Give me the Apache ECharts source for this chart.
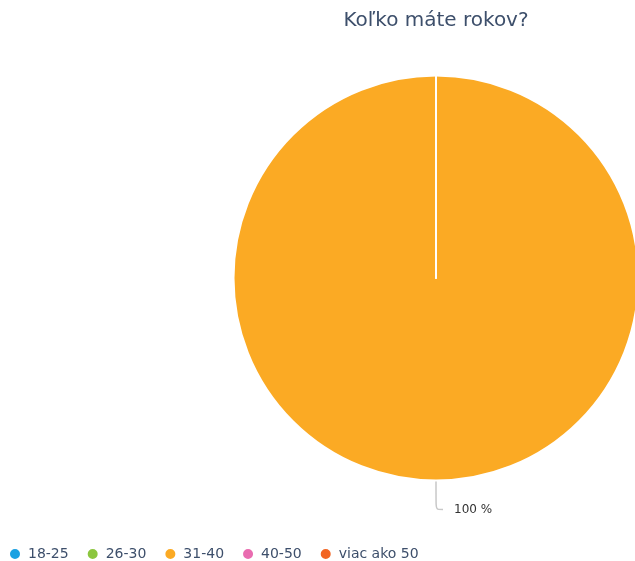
<!DOCTYPE html>
<html>
<head>
<meta charset="utf-8">
<script src="https://cdn.jsdelivr.net/npm/echarts@6/dist/echarts.min.js"></script>
<style>
  html, body { margin: 0; padding: 0; background: #fff; }
  #chart { width: 635px; height: 561px; }
</style>
</head>
<body>
<div id="chart"></div>
<script>
// Age groups of respondents
const categories = ['18-25', '26-30', '31-40', '40-50', 'viac ako 50'];
const counts = [0, 0, 1, 0, 0];
const colors = ['#1ba1e2', '#8cc63f', '#fbaa24', '#e96cb0', '#f26522'];

const chart = echarts.init(document.getElementById('chart'), null, { renderer: 'canvas' });

const data = categories.map((name, i) => ({
  name: name,
  value: counts[i],
  label: { show: counts[i] > 0 },
  labelLine: { show: counts[i] > 0 }
}));

chart.setOption({
  animation: false,
  color: colors,
  title: {
    text: 'Koľko máte rokov?',
    left: 431,
    top: 6,
    textAlign: 'center',
    textStyle: {
      fontFamily: 'DejaVu Sans',
      fontSize: 20,
      fontWeight: 'normal',
      color: '#3d4f6b'
    }
  },
  legend: {
    left: 8,
    top: 547,
    padding: 0,
    icon: 'circle',
    itemWidth: 12,
    itemHeight: 12,
    itemGap: 17,
    textStyle: {
      fontFamily: 'DejaVu Sans',
      fontSize: 14,
      color: '#3d4f6b',
      padding: [0, 0, 0, 2]
    },
    data: categories
  },
  series: [{
    type: 'pie',
    center: [436, 278],
    radius: [0, 202.5],
    startAngle: 90,
    clockwise: true,
    stillShowZeroSum: true,
    itemStyle: { borderColor: '#ffffff', borderWidth: 2 },
    label: {
      formatter: '{d} %',
      fontFamily: 'DejaVu Sans',
      fontSize: 12,
      color: '#333333',
      distanceToLabelLine: 11
    },
    labelLine: {
      length: 29,
      length2: 7,
      smooth: true,
      lineStyle: { color: '#c8c8c8', width: 1.5 }
    },
    emphasis: { disabled: true },
    data: data
  }]
});
</script>
</body>
</html>
